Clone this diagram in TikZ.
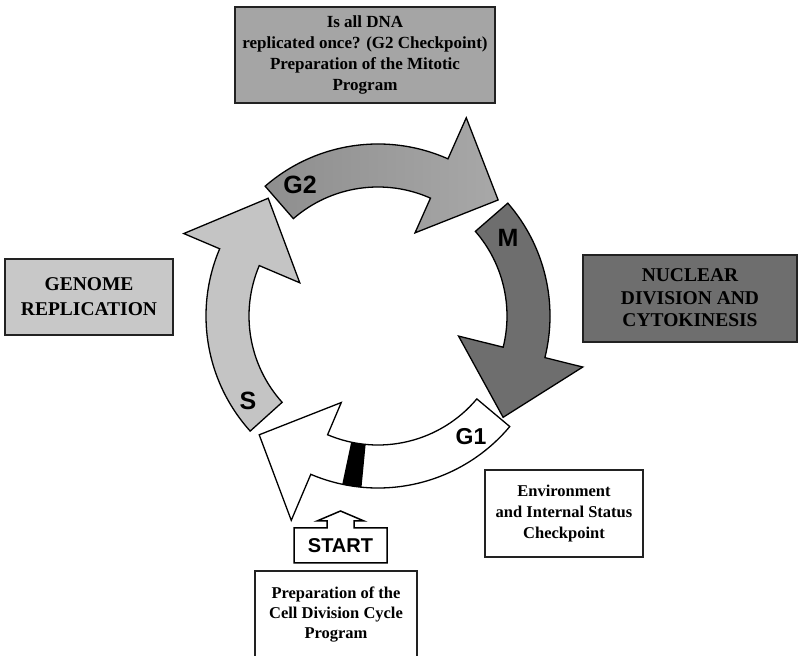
\documentclass[tikz,border=0pt]{standalone}
\usepackage{fontspec}
\setmainfont{Liberation Serif}
\newfontfamily\arialfont{Liberation Sans}
\definecolor{sgray}{HTML}{C4C4C4}
\definecolor{ggrayA}{HTML}{8E8E8E}
\definecolor{ggrayB}{HTML}{A8A8A8}
\definecolor{mgray}{HTML}{6E6E6E}
\definecolor{topbox}{HTML}{A5A5A5}
\definecolor{leftbox}{HTML}{C8C8C8}
\definecolor{rightbox}{HTML}{6E6E6E}
\definecolor{border}{HTML}{222222}
\tikzset{
  ringarrow/.style={draw=black, line width=1.3pt, line join=miter},
  infobox/.style={draw=border, line width=2pt},
  boxtext/.style={align=center, font=\bfseries},
  phaselabel/.style={font=\arialfont\bfseries\fontsize{25}{25}\selectfont, inner sep=0pt},
}
\begin{document}
\begin{tikzpicture}[x=1pt, y=1pt]
\useasboundingbox (0,0) rectangle (799,655);

% ring arrows, centred on the cycle
\begin{scope}[shift={(378,339)}]
  % S
  \draw[ringarrow, fill=sgray] (222:172) arc[start angle=222, end angle=157, radius=172]
    -- (157:211) -- (133:161) -- (157:85) -- (157:129)
    arc[start angle=157, end angle=222, radius=129] -- cycle;
  % G2
  \draw[ringarrow, left color=ggrayA, right color=ggrayB] (131:172) arc[start angle=131, end angle=66, radius=172]
    -- (66:217) -- (44:167) -- (66:91) -- (66:129)
    arc[start angle=66, end angle=131, radius=129] -- cycle;
  % M
  \draw[ringarrow, fill=mgray] (41:172) arc[start angle=41, end angle=-14, radius=172]
    -- (-14:211) -- (-39:161) -- (-14:83) -- (-14:129)
    arc[start angle=-14, end angle=41, radius=129] -- cycle;
  % G1
  \draw[ringarrow, fill=white] (-40:172) arc[start angle=-40, end angle=-113, radius=172]
    -- (-113:222) -- (-135:168) -- (-113:94) -- (-113:129)
    arc[start angle=-113, end angle=-40, radius=129] -- cycle;
  % restriction point bar
  \fill[black] (-102:172) arc[start angle=-102, end angle=-95.5, radius=172]
    -- (-95.5:129) arc[start angle=-95.5, end angle=-102, radius=129] -- cycle;
\end{scope}

% phase labels
\node[phaselabel] (lg2) at (300,470) {G2};
\node[phaselabel] (lm) at (508,417) {M};
\node[phaselabel] (ls) at (248,254) {S};
\node[phaselabel, font=\arialfont\bfseries\fontsize{23}{23}\selectfont] (lg1) at (471,218) {G1};

% boxes
\draw[infobox, fill=topbox] (235,648) rectangle (495,552);
\node[boxtext, font=\bfseries\fontsize{17}{20.7}\selectfont] (topt) at (365,600)
  {Is all DNA\\replicated once? (G2 Checkpoint)\\Preparation of the Mitotic\\Program};

\draw[infobox, fill=leftbox] (5,396) rectangle (173,320);
\node[boxtext, font=\bfseries\fontsize{19.5}{25}\selectfont] (leftt) at (89,358)
  {GENOME\\REPLICATION};

\draw[infobox, fill=rightbox] (583,400) rectangle (797,313);
\node[boxtext, font=\bfseries\fontsize{19.5}{22.5}\selectfont] (rightt) at (690,357)
  {NUCLEAR\\DIVISION AND\\CYTOKINESIS};

\draw[infobox, line width=1.6pt, fill=white] (485,185) rectangle (643,98);
\node[boxtext, font=\bfseries\fontsize{16.5}{21}\selectfont] (envt) at (564,141.5)
  {Environment\\and Internal Status\\Checkpoint};

\draw[infobox, line width=1.6pt, fill=white] (255,84) rectangle (417,-10);
\node[boxtext, font=\bfseries\fontsize{16.5}{20}\selectfont] (prept) at (336,40)
  {Preparation of the\\Cell Division Cycle\\Program};

% START block arrow
\draw[line width=1.5pt, line join=miter, fill=white]
  (294,92) -- (294,127) -- (327,127) -- (327,134) -- (317,134) -- (340.5,144)
  -- (364,134) -- (354,134) -- (354,127) -- (387,127) -- (387,92) -- cycle;
\node[font=\arialfont\bfseries\fontsize{20}{20}\selectfont, inner sep=0pt] (start) at (340.5,109.5) {START};
\end{tikzpicture}
\end{document}
